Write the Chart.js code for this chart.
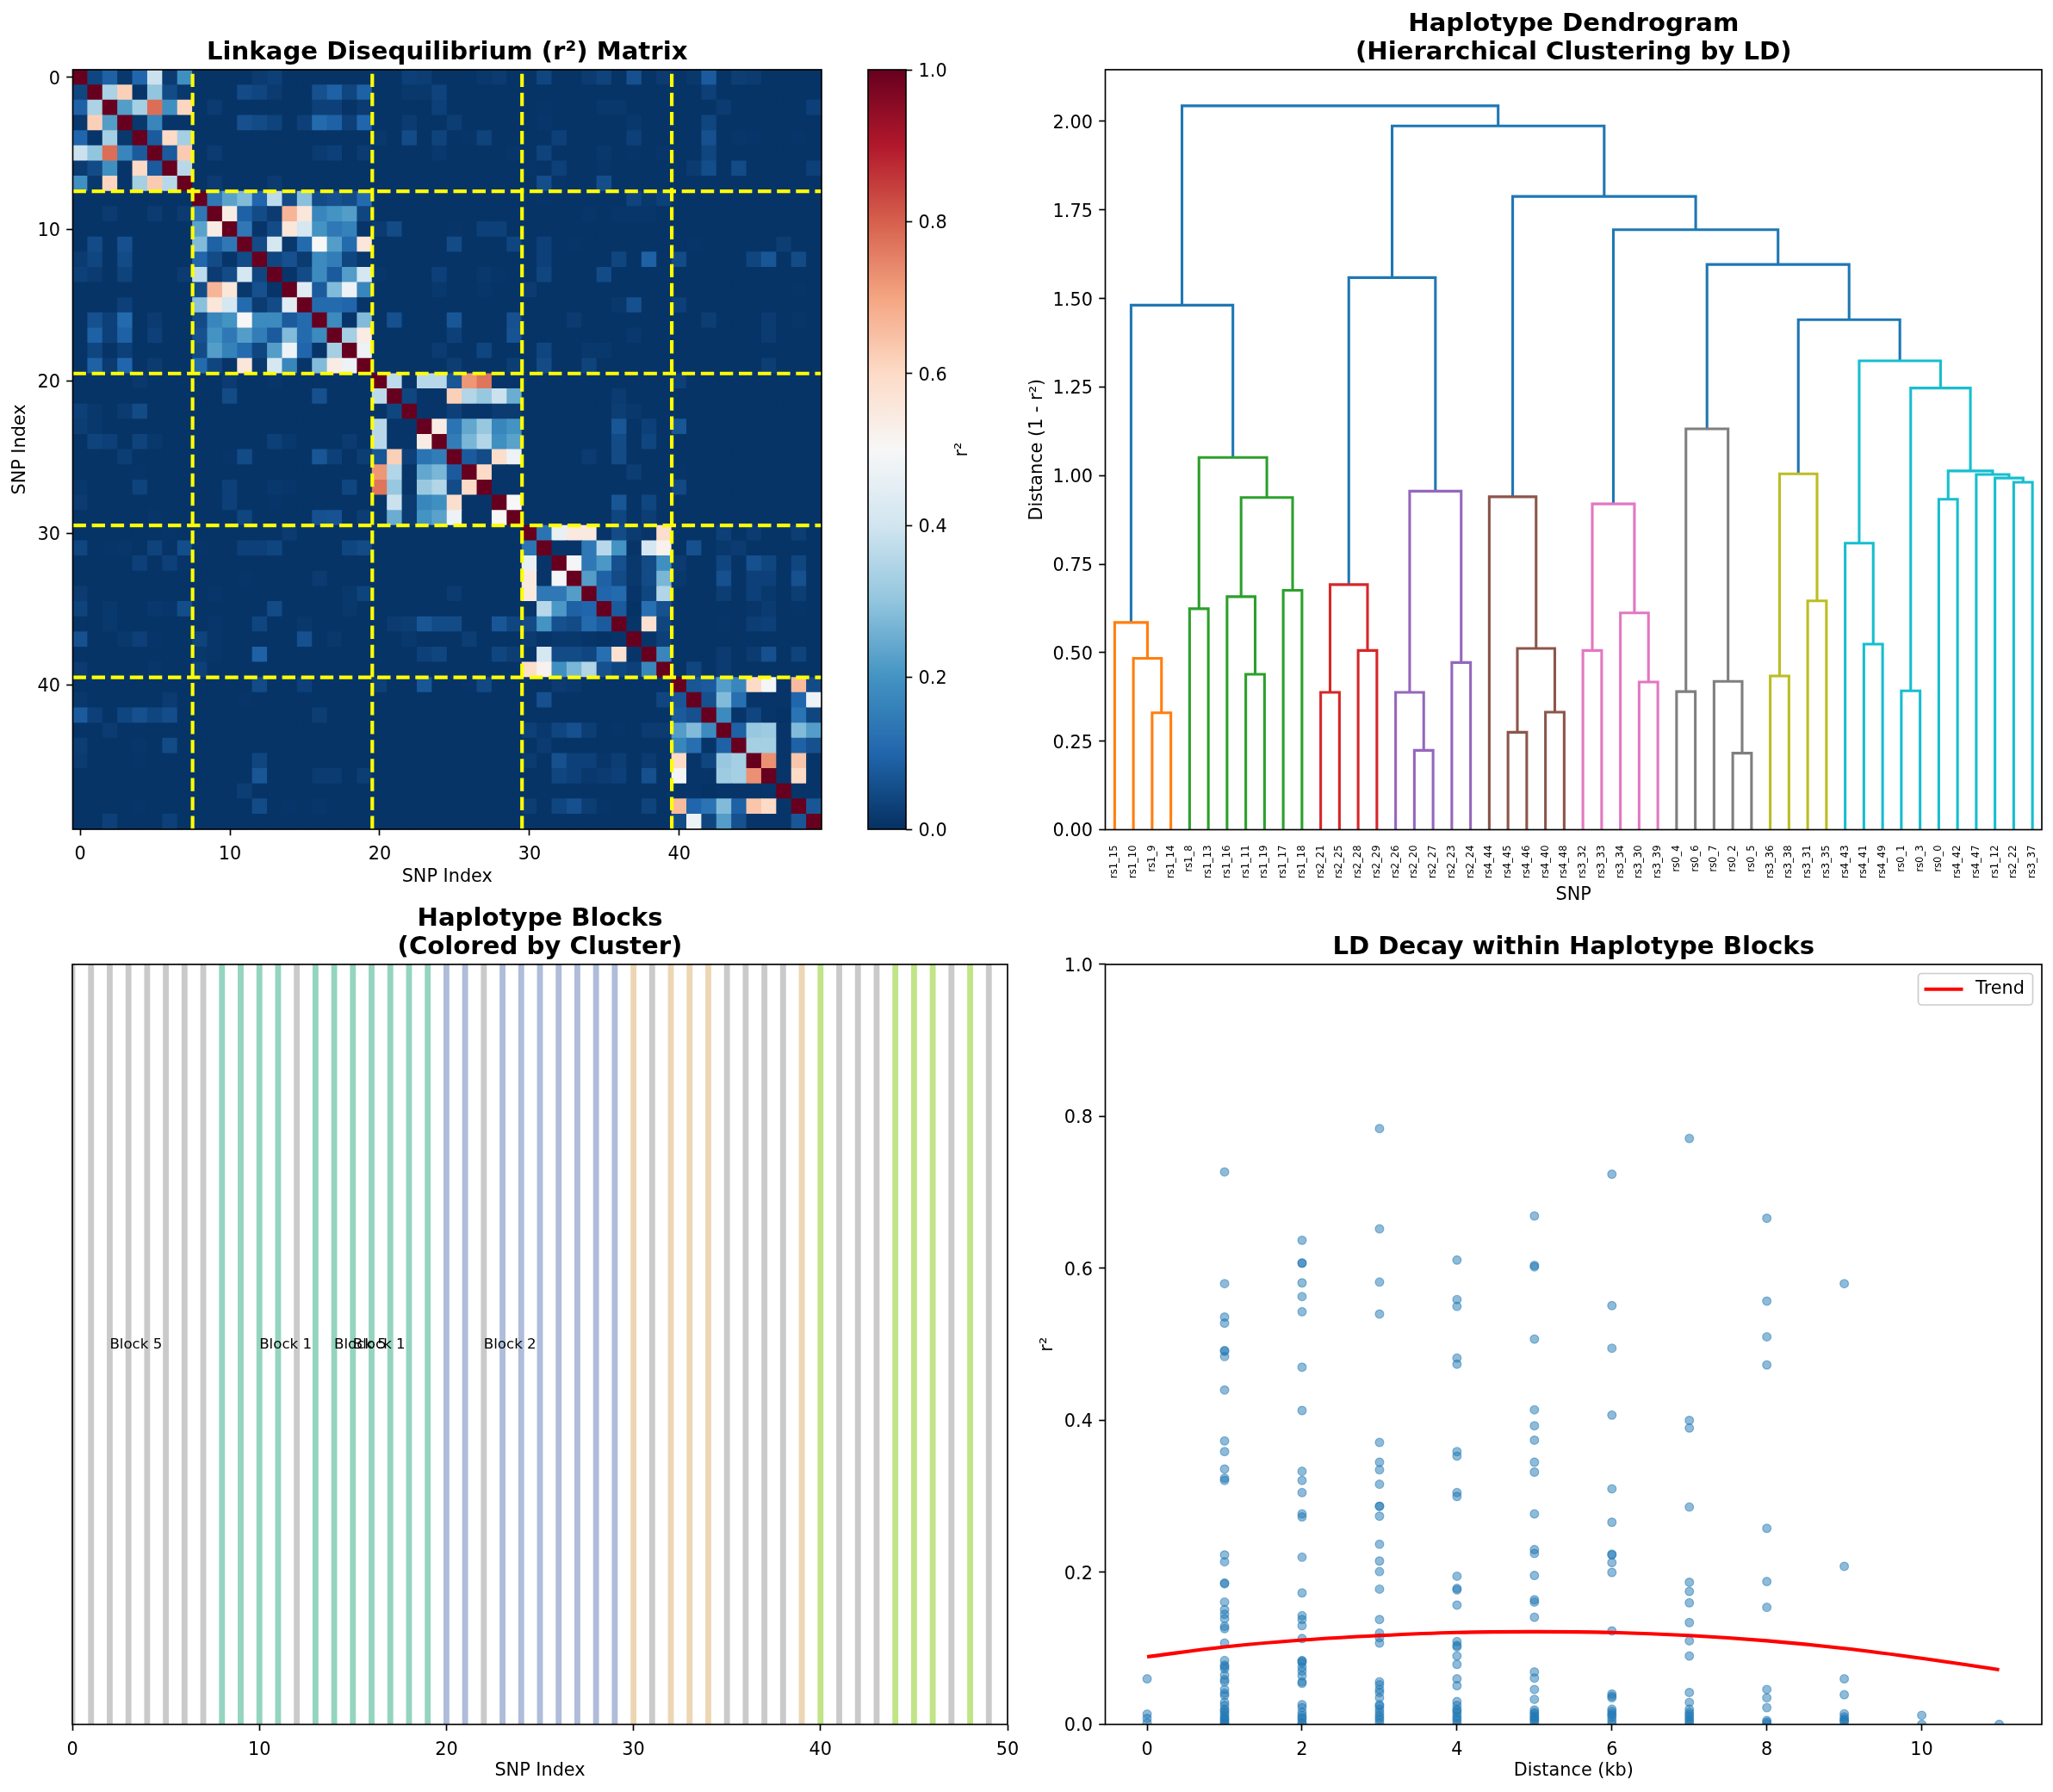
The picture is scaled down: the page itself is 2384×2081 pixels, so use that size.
<!DOCTYPE html>
<html>
<head>
<meta charset="utf-8">
<title>Haplotype block analysis</title>
<script src="https://cdn.jsdelivr.net/npm/chart.js@4/dist/chart.umd.min.js"></script>
<style>
  html, body { margin: 0; padding: 0; background: #fff; }
  #page { position: relative; width: 2384px; height: 2081px; overflow: hidden; background: #fff; }
  canvas { position: absolute; }
</style>
</head>
<body>
<div id="page"></div>
<script>
// --- LD matrix: upper triangles of the five blocks, first SNP of each block in blockStarts ---
const blockStarts = [0, 8, 20, 30, 40];
const blockBoundaries = [7.5, 19.5, 29.5, 39.5];
const ldBlock0 = [
  [.04, .09, .015, .10, .39, .02, .19],
  [.34, .62, .01, .30, .05, .015],
  [.22, .33, .78, .19, .61],
  [.015, .17, .01, .01],
  [.08, .60, .33],
  [.08, .63],
  [.36]
];
const ldBlock1 = [
  [.14, .23, .28, .10, .37, .05, .29, .05, .06, .05, .11],
  [.54, .09, .05, .02, .67, .56, .17, .20, .22, .04],
  [.14, .01, .05, .56, .41, .20, .14, .16, .01],
  [.05, .41, .015, .11, .50, .22, .11, .56],
  [.04, .06, .02, .18, .15, .04, .015],
  [.01, .05, .18, .08, .22, .41],
  [.44, .08, .28, .47, .17],
  [.11, .11, .10, .01],
  [.18, .01, .28],
  [.33, .54],
  [.47]
];
const ldBlock2 = [
  [.37, .01, .36, .36, .07, .72, .77, .01, .01],
  [.04, .01, .01, .62, .35, .31, .39, .25],
  [.01, .01, .03, .01, .01, .02, .02],
  [.54, .13, .24, .31, .17, .20],
  [.15, .27, .35, .19, .23],
  [.08, .05, .59, .47],
  [.60, .01, .01],
  [.01, .01],
  [.50]
];
const ldBlock3 = [
  [.13, .46, .55, .55, .01, .05, .02, .01, .59],
  [.01, .01, .14, .36, .20, .01, .41, .52],
  [.49, .14, .21, .06, .015, .05, .19],
  [.22, .09, .05, .015, .05, .27],
  [.10, .11, .01, .04, .35],
  [.08, .005, .12, .06],
  [.01, .58, .04],
  [.01, .03],
  [.17]
];
const ldBlock4 = [
  [.07, .08, .22, .17, .60, .49, .01, .66, .05],
  [.06, .28, .12, .01, .01, .01, .10, .47],
  [.18, .01, .04, .01, .005, .13, .04],
  [.09, .31, .32, .01, .28, .22],
  [.33, .33, .01, .09, .06],
  [.73, .01, .64, .01],
  [.01, .60, .01],
  [.01, .01],
  [.07]
];
// background r2 between blocks, and the pairs that stand out from it [snp a, snp b, r2]
const ldBackground = 0.008;
const ldCrossPairs = [
  [0,12,.02],[0,13,.03],[1,11,.05],[1,12,.04],[1,13,.02],[1,16,.06],[1,17,.09],[1,18,.04],[1,19,.09],
  [2,9,.02],[2,16,.03],[2,17,.03],[2,19,.02],[3,11,.06],[3,12,.05],[3,13,.035],[3,15,.03],[3,16,.11],
  [3,17,.09],[3,18,.03],[3,19,.10],[5,9,.02],[5,16,.02],[5,17,.03],[5,19,.02],[7,9,.02],[7,13,.02],
  [0,22,.03],[0,23,.025],[1,22,.015],[1,23,.015],[1,24,.035],[2,24,.03],[3,22,.02],[3,25,.025],
  [4,20,.015],[4,22,.05],[4,24,.035],[0,27,.015],[0,28,.02],[0,31,.04],[0,34,.02],[0,35,.035],[0,37,.06],
  [0,39,.02],[0,41,.015],[0,42,.08],[0,44,.025],[0,45,.02],[1,42,.03],[2,31,.01],[2,35,.015],[2,36,.015],
  [2,43,.02],[2,49,.03],[3,31,.012],[3,37,.015],[3,42,.04],[4,26,.01],[4,27,.035],[4,32,.03],[4,37,.03],
  [4,42,.06],[4,44,.012],[4,45,.01],[4,48,.01],[5,24,.015],[5,29,.012],[5,31,.035],[5,35,.015],[5,37,.01],
  [5,39,.012],[5,42,.04],[6,30,.01],[6,32,.03],[6,35,.012],[6,41,.02],[6,42,.055],[6,44,.05],[6,49,.03],
  [7,31,.055],[7,32,.01],[7,35,.055],[8,31,.01],[8,37,.035],[8,38,.015],[8,39,.03],[9,34,.012],[9,36,.012],
  [9,37,.012],[9,38,.012],[10,20,.02],[10,21,.05],[10,25,.01],[10,27,.03],[10,28,.03],[11,25,.05],[11,29,.04],
  [11,31,.03],[11,33,.01],[11,41,.01],[11,47,.025],[12,31,.03],[12,36,.04],[12,38,.09],[12,40,.05],[12,45,.04],
  [12,46,.07],[12,48,.05],[13,20,.012],[13,24,.03],[13,27,.015],[13,28,.01],[13,31,.04],[13,35,.05],[14,24,.015],
  [14,27,.012],[14,30,.02],[14,48,.01],[15,36,.015],[15,37,.06],[15,40,.03],[16,21,.06],[16,25,.07],[16,29,.06],
  [16,33,.02],[16,42,.025],[16,46,.02],[16,48,.012],[17,25,.03],[17,29,.065],[17,37,.015],[17,46,.02],[18,24,.02],
  [18,27,.04],[18,31,.04],[18,34,.015],[18,35,.015],[19,25,.025],[19,29,.025],[19,31,.05],[19,34,.035],[19,46,.025],
  [20,40,.03],[21,36,.02],[22,36,.025],[22,37,.015],[23,36,.07],[23,38,.03],[23,40,.07],[24,36,.05],[24,38,.04],
  [25,34,.02],[25,36,.05],[26,37,.025],[26,40,.01],[27,40,.045],[28,36,.07],[28,38,.04],[29,36,.04],[29,38,.025],
  [30,43,.03],[30,45,.02],[30,48,.025],[31,41,.06],[31,43,.015],[31,44,.02],[32,40,.02],[32,43,.04],[32,45,.06],
  [32,46,.04],[32,48,.04],[33,40,.015],[33,43,.06],[33,45,.03],[33,46,.03],[33,48,.06],[34,43,.025],[34,45,.03],
  [34,46,.015],[34,48,.025],[35,45,.012],[35,46,.02],[35,48,.01],[36,43,.01],[36,45,.025],[36,46,.03],[38,43,.02],
  [38,45,.02],[38,46,.06],[38,48,.035],[39,41,.04],[39,43,.02]
];
const matrixTicks = [0, 10, 20, 30, 40];
const colorbarTicks = [0, 0.2, 0.4, 0.6, 0.8, 1];
const rdbuStops = ['#053061', '#2166ac', '#4393c3', '#92c5de', '#d1e5f0', '#f7f7f7', '#fddbc7', '#f4a582', '#d6604d', '#b2182b', '#67001f'];

// --- Dendrogram: leaf order, then one merge per row, node ids above 49 are earlier merges ---
const leafNames = [
  'rs1_15', 'rs1_10', 'rs1_9', 'rs1_14', 'rs1_8', 'rs1_13', 'rs1_16', 'rs1_11', 'rs1_19', 'rs1_17',
  'rs1_18', 'rs2_21', 'rs2_25', 'rs2_28', 'rs2_29', 'rs2_26', 'rs2_20', 'rs2_27', 'rs2_23', 'rs2_24',
  'rs4_44', 'rs4_45', 'rs4_46', 'rs4_40', 'rs4_48', 'rs3_32', 'rs3_33', 'rs3_34', 'rs3_30', 'rs3_39',
  'rs0_4', 'rs0_6', 'rs0_7', 'rs0_2', 'rs0_5', 'rs3_36', 'rs3_38', 'rs3_31', 'rs3_35', 'rs4_43',
  'rs4_41', 'rs4_49', 'rs0_1', 'rs0_3', 'rs0_0', 'rs4_42', 'rs4_47', 'rs1_12', 'rs2_22', 'rs3_37'
];
const mergeLeft = [2, 1, 0, 4, 7, 6, 9, 55, 53, 11, 13, 59, 16, 15, 18, 63, 21, 23, 66, 20, 25, 28, 27, 70, 30, 33, 32, 74, 35, 37, 78, 40, 39, 42, 44, 48, 47, 46, 84, 83, 82, 52, 61, 80, 77, 73, 69, 92, 91];
const mergeRight = [3, 50, 51, 5, 8, 54, 10, 56, 57, 12, 14, 60, 17, 62, 19, 64, 22, 24, 67, 68, 26, 29, 71, 72, 31, 34, 75, 76, 36, 38, 79, 41, 81, 43, 45, 49, 85, 86, 87, 88, 89, 58, 65, 90, 93, 94, 95, 96, 97];
const mergeHeight = [.33, .484, .585, .624, .439, .658, .676, .938, 1.051, .388, .506, .692, .224, .388, .472, .956, .275, .332, .512, .94, .506, .417, .612, .92, .39, .216, .419, 1.132, .434, .646, 1.005, .524, .809, .392, .933, .981, .993, 1.003, 1.013, 1.247, 1.324, 1.481, 1.559, 1.44, 1.596, 1.694, 1.788, 1.987, 2.044];
const mergeColor = [
  '#ff7f0e', '#ff7f0e', '#ff7f0e', '#2ca02c', '#2ca02c', '#2ca02c', '#2ca02c', '#2ca02c', '#2ca02c',
  '#d62728', '#d62728', '#d62728', '#9467bd', '#9467bd', '#9467bd', '#9467bd',
  '#8c564b', '#8c564b', '#8c564b', '#8c564b', '#e377c2', '#e377c2', '#e377c2', '#e377c2',
  '#7f7f7f', '#7f7f7f', '#7f7f7f', '#7f7f7f', '#bcbd22', '#bcbd22', '#bcbd22',
  '#17becf', '#17becf', '#17becf', '#17becf', '#17becf', '#17becf', '#17becf', '#17becf', '#17becf', '#17becf',
  '#1f77b4', '#1f77b4', '#1f77b4', '#1f77b4', '#1f77b4', '#1f77b4', '#1f77b4', '#1f77b4'
];
const dendroTicks = [0, 0.25, 0.5, 0.75, 1, 1.25, 1.5, 1.75, 2];

// --- Haplotype blocks: cluster of each SNP, 0 is unassigned ---
const snpCluster = [
  0, 0, 0, 0, 0, 0, 0, 0, 1, 1, 1, 1, 0, 1, 1, 1, 1, 1, 1, 1,
  2, 2, 0, 2, 2, 2, 2, 2, 2, 2, 3, 0, 3, 3, 3, 0, 0, 0, 0, 3,
  4, 0, 0, 0, 4, 4, 4, 0, 4, 0
];
const clusterColors = ['rgba(179,179,179,.7)', 'rgba(102,194,165,.7)', 'rgba(141,160,203,.7)', 'rgba(229,196,148,.7)', 'rgba(166,216,84,.7)'];
const blockLabels = ['Block 5', 'Block 1', 'Block 5', 'Block 1', 'Block 2'];
const blockLabelX = [3.4, 11.4, 15.4, 16.4, 23.4];
const blockAxisTicks = [0, 10, 20, 30, 40, 50];

// --- LD decay: r2 of the pairs at each distance in kb, plus the fitted trend ---
const r2AtDistance = [
  [.06, .0135, .008, .002],
  [.727, .58, .536, .528, .492, .491, .484, .44, .373, .359, .336, .324, .321, .223, .214, .186, .185, .161, .151, .145, .139, .129, .126, .107, .084, .078, .076, .073, .065, .059, .056, .046, .041, .038, .029, .025, .02, .018, .015, .012, .009, .007, .005, .002, .001],
  [.637, .607, .607, .581, .563, .543, .47, .413, .333, .321, .305, .277, .273, .22, .173, .143, .138, .13, .113, .084, .083, .081, .075, .07, .064, .056, .054, .026, .022, .016, .012, .009, .007, .003, .001],
  [.784, .652, .582, .54, .371, .345, .335, .316, .287, .287, .274, .237, .215, .201, .178, .138, .12, .114, .107, .056, .052, .046, .042, .035, .026, .024, .02, .016, .012, .009, .006, .002],
  [.611, .559, .55, .482, .474, .359, .353, .305, .3, .195, .179, .177, .157, .109, .104, .102, .09, .079, .06, .051, .03, .025, .02, .018, .015, .011, .008, .005, .001],
  [.669, .604, .602, .507, .414, .393, .374, .345, .332, .277, .23, .225, .196, .164, .161, .141, .069, .061, .046, .033, .019, .016, .014, .011, .009, .007, .005, .002],
  [.724, .551, .495, .407, .31, .266, .224, .223, .213, .2, .123, .04, .037, .035, .02, .017, .014, .012, .009, .005, .001],
  [.771, .4, .39, .286, .187, .175, .16, .134, .11, .09, .042, .029, .02, .016, .013, .01, .007, .004, .001],
  [.666, .557, .51, .473, .258, .188, .154, .046, .035, .022, .005, .003, .001],
  [.58, .208, .06, .039, .014, .01, .007, .005, .003],
  [.012, 0],
  [0]
];
const trendDistance = [0, 1, 2, 3, 4, 5, 6, 7, 8, 9, 10, 11];
const trendR2 = [.089, .102, .111, .117, .121, .122, .121, .117, .11, .1, .087, .072];
const decayXTicks = [0, 2, 4, 6, 8, 10];
const decayYTicks = [0, 0.2, 0.4, 0.6, 0.8, 1];

// --- Shared styling ---
const FONT = '"DejaVu Sans", sans-serif';
const TICK_SIZE = 20.8;
const TITLE_SIZE = 29.17;
const TITLE_LINE = 1.13;
const TITLE_GAP = 3;
const SPINE = 1.67;
const CANVAS_PAD = 24;
const X_TICKS = { padding: 10 };
const Y_TICKS = { labelOffset: 2.5 };

Chart.defaults.font.family = FONT;
Chart.defaults.font.size = TICK_SIZE;
Chart.defaults.color = '#000';
Chart.defaults.animation = false;
Chart.defaults.events = [];
Chart.defaults.plugins.legend.display = false;
Chart.defaults.plugins.tooltip.enabled = false;

// Draws the four spines on top of the marks
const spinePlugin = {
  id: 'spines',
  afterDraw(chart) {
    const { ctx, chartArea: a } = chart;
    ctx.save();
    ctx.strokeStyle = '#000';
    ctx.lineWidth = SPINE;
    ctx.strokeRect(a.left, a.top, a.right - a.left, a.bottom - a.top);
    ctx.restore();
  }
};

function hexToRgb(hex) {
  return [1, 3, 5].map(i => parseInt(hex.slice(i, i + 2), 16));
}

// RdBu_r lookup for a value between 0 and 1
function ldColor(value) {
  const pos = Math.min(Math.max(value, 0), 1) * (rdbuStops.length - 1);
  const i = Math.min(Math.floor(pos), rdbuStops.length - 2);
  const a = hexToRgb(rdbuStops[i]);
  const b = hexToRgb(rdbuStops[i + 1]);
  const t = pos - i;
  return `rgb(${a.map((c, k) => Math.round(c + (b[k] - c) * t)).join(',')})`;
}

function buildMatrix() {
  const size = 50;
  const matrix = Array.from({ length: size }, () => new Array(size).fill(ldBackground));
  [ldBlock0, ldBlock1, ldBlock2, ldBlock3, ldBlock4].forEach((block, b) => {
    const start = blockStarts[b];
    block.forEach((row, i) => row.forEach((v, j) => {
      matrix[start + i][start + i + j + 1] = v;
      matrix[start + i + j + 1][start + i] = v;
    }));
  });
  ldCrossPairs.forEach(([a, b, v]) => { matrix[a][b] = v; matrix[b][a] = v; });
  for (let i = 0; i < size; i++) matrix[i][i] = 1;
  return matrix;
}

function fixedTicks(values) {
  return scale => { scale.ticks = values.map(value => ({ value })); };
}

// Axis with ticks only (no gridlines); box size is pinned so the plot area lands where it should
function axis(extra, boxSize) {
  const { ticks, grid, title, ...rest } = extra;
  return Object.assign({
    grid: { drawOnChartArea: false, tickLength: 7.3, tickWidth: SPINE, tickColor: '#000', ...grid },
    border: { display: false },
    ticks: { padding: 7.3, maxRotation: 0, autoSkip: false, font: { size: TICK_SIZE }, ...ticks },
    title: title ? { display: true, text: title, padding: 0, font: { size: TICK_SIZE, lineHeight: 1.2 } } : { display: false },
    afterFit(scale) {
      if (scale.isHorizontal()) scale.height = boxSize; else scale.width = boxSize;
      // labels may hang past the plot edge, that must not shrink the plot
      scale.paddingLeft = scale.paddingRight = scale.paddingTop = scale.paddingBottom = 0;
    }
  }, rest);
}

// Creates a canvas around the wanted plot rectangle, then nudges it so the plot area sits on that rectangle
function makeChart(rect, box, config) {
  const titleLines = box.titleLines || 0;
  const titleHeight = titleLines ? titleLines * TITLE_SIZE * TITLE_LINE + TITLE_GAP : 0;
  const canvas = document.createElement('canvas');
  canvas.width = Math.ceil((box.left || 0) + rect.w + (box.right || 0) + CANVAS_PAD * 2);
  canvas.height = Math.ceil(titleHeight + rect.h + (box.bottom || 0) + CANVAS_PAD * 2);
  document.getElementById('page').appendChild(canvas);

  config.options = Object.assign({
    responsive: false,
    maintainAspectRatio: false,
    layout: { autoPadding: false, padding: CANVAS_PAD }
  }, config.options);
  config.plugins = [spinePlugin].concat(config.plugins || []);
  const chart = new Chart(canvas.getContext('2d'), config);

  const area = chart.chartArea;
  const extraW = Math.round(rect.w - (area.right - area.left));
  const extraH = Math.round(rect.h - (area.bottom - area.top));
  if (extraW !== 0 || extraH !== 0) {
    chart.resize(canvas.width + extraW, canvas.height + extraH);
  }
  canvas.style.left = Math.round(rect.x - chart.chartArea.left) + 'px';
  canvas.style.top = Math.round(rect.y - chart.chartArea.top) + 'px';
  return chart;
}

function titleOptions(text) {
  return {
    display: true,
    text,
    fullSize: false,
    color: '#000',
    font: { size: TITLE_SIZE, weight: 'bold', lineHeight: TITLE_LINE },
    padding: { top: 0, bottom: TITLE_GAP }
  };
}

// --- LD heatmap ---
function drawMatrixPanel() {
  const matrix = buildMatrix();
  const cells = [];
  const colors = [];
  matrix.forEach((row, y) => row.forEach((v, x) => {
    cells.push({ x, y });
    colors.push(ldColor(v));
  }));

  const boundaryLines = [];
  blockBoundaries.forEach(pos => {
    boundaryLines.push({ data: [{ x: pos, y: 49.5 }, { x: pos, y: -0.5 }] });
    boundaryLines.push({ data: [{ x: -0.5, y: pos }, { x: 49.5, y: pos }] });
  });

  makeChart({ x: 84, y: 81, w: 869, h: 882 }, { left: 73.5, bottom: 68, titleLines: 1 }, {
    type: 'scatter',
    data: {
      datasets: boundaryLines.map(line => ({
        data: line.data,
        showLine: true,
        borderColor: '#ffff00',
        borderWidth: 4.17,
        borderDash: [15.4, 6.7],
        borderCapStyle: 'butt',
        pointRadius: 0,
        clip: 0
      })).concat([{
        data: cells,
        pointStyle: 'rect',
        pointRadius: 13,
        pointBorderWidth: 0,
        pointBackgroundColor: colors,
        clip: 0
      }])
    },
    options: {
      plugins: { title: titleOptions('Linkage Disequilibrium (r²) Matrix') },
      scales: {
        x: axis({ type: 'linear', min: -0.5, max: 49.5, title: 'SNP Index', ticks: X_TICKS, afterBuildTicks: fixedTicks(matrixTicks) }, 68),
        y: axis({ type: 'linear', min: -0.5, max: 49.5, reverse: true, title: 'SNP Index', ticks: Y_TICKS, afterBuildTicks: fixedTicks(matrixTicks) }, 73.5)
      }
    }
  });
}

// Colour scale beside the heatmap: gradient filled along its own axis
function drawColorbar() {
  const gradientPlugin = {
    id: 'gradientBar',
    beforeDatasetsDraw(chart) {
      const { ctx, chartArea: a, scales: { y } } = chart;
      const grad = ctx.createLinearGradient(0, y.getPixelForValue(0), 0, y.getPixelForValue(1));
      rdbuStops.forEach((c, i) => grad.addColorStop(i / (rdbuStops.length - 1), c));
      ctx.save();
      ctx.fillStyle = grad;
      ctx.fillRect(a.left, a.top, a.right - a.left, a.bottom - a.top);

      // label reads bottom to top
      ctx.translate(a.right + 65.5, (a.top + a.bottom) / 2);
      ctx.rotate(-Math.PI / 2);
      ctx.fillStyle = '#000';
      ctx.font = `${TICK_SIZE}px ${FONT}`;
      ctx.textAlign = 'center';
      ctx.textBaseline = 'middle';
      ctx.fillText('r²', 0, 0);
      ctx.restore();
    }
  };
  makeChart({ x: 1008, y: 81, w: 44, h: 882 }, { right: 80 }, {
    type: 'scatter',
    data: { datasets: [{ data: [], pointRadius: 0 }] },
    options: {
      scales: {
        x: { display: false, min: 0, max: 1 },
        y: axis({
          type: 'linear', position: 'right', min: 0, max: 1,
          afterBuildTicks: fixedTicks(colorbarTicks),
          ticks: { ...Y_TICKS, callback: v => Number(v).toFixed(1) }
        }, 80)
      }
    },
    plugins: [gradientPlugin]
  });
}

// --- Dendrogram ---
function drawDendrogram() {
  const nodeX = leafNames.map((_, i) => 5 + 10 * i);
  const nodeY = leafNames.map(() => 0);
  const links = mergeHeight.map((h, k) => {
    const a = mergeLeft[k];
    const b = mergeRight[k];
    const link = {
      data: [{ x: nodeX[a], y: nodeY[a] }, { x: nodeX[a], y: h }, { x: nodeX[b], y: h }, { x: nodeX[b], y: nodeY[b] }],
      showLine: true,
      borderColor: mergeColor[k],
      borderWidth: 3.1,
      borderJoinStyle: 'miter',
      borderCapStyle: 'butt',
      pointRadius: 0,
      tension: 0
    };
    nodeX.push((nodeX[a] + nodeX[b]) / 2);
    nodeY.push(h);
    return link;
  });

  makeChart({ x: 1283, y: 81, w: 1087, h: 883 }, { left: 91.5, bottom: 88.5, titleLines: 2 }, {
    type: 'scatter',
    data: { datasets: links },
    options: {
      plugins: { title: titleOptions(['Haplotype Dendrogram', '(Hierarchical Clustering by LD)']) },
      scales: {
        x: axis({
          type: 'linear', min: 0, max: 500, title: 'SNP',
          afterBuildTicks: fixedTicks(leafNames.map((_, i) => 5 + 10 * i)),
          grid: { tickLength: 0, tickWidth: 0 },
          ticks: {
            padding: 18, minRotation: 90, maxRotation: 90,
            font: { size: 11.5 },
            callback: (value, i) => leafNames[i]
          }
        }, 88.5),
        y: axis({
          type: 'linear', min: 0, max: 2.146, title: 'Distance (1 - r²)',
          afterBuildTicks: fixedTicks(dendroTicks),
          ticks: { ...Y_TICKS, callback: v => Number(v).toFixed(2) }
        }, 91.5)
      }
    }
  });
}

// --- Haplotype blocks ---
function drawBlocks() {
  const labelPlugin = {
    id: 'blockLabels',
    afterDatasetsDraw(chart) {
      const { ctx, scales: { x, y } } = chart;
      ctx.save();
      ctx.fillStyle = '#000';
      ctx.font = `16.67px ${FONT}`;
      ctx.textAlign = 'center';
      ctx.textBaseline = 'middle';
      blockLabels.forEach((text, i) => ctx.fillText(text, x.getPixelForValue(blockLabelX[i]), y.getPixelForValue(0.5)));
      ctx.restore();
    }
  };
  makeChart({ x: 84, y: 1120, w: 1086, h: 883 }, { bottom: 66.5, titleLines: 2 }, {
    type: 'bar',
    data: {
      datasets: [{
        data: snpCluster.map((_, i) => ({ x: i, y: 1 })),
        backgroundColor: snpCluster.map(c => clusterColors[c]),
        barThickness: 6.2,
        borderWidth: 0
      }]
    },
    options: {
      plugins: { title: titleOptions(['Haplotype Blocks', '(Colored by Cluster)']) },
      scales: {
        x: axis({
          type: 'linear', min: 0, max: 50, offset: false, title: 'SNP Index',
          ticks: X_TICKS,
          grid: { offset: false },
          afterBuildTicks: fixedTicks(blockAxisTicks)
        }, 66.5),
        y: { display: false, min: 0, max: 1 }
      }
    },
    plugins: [labelPlugin]
  });
}

// --- LD decay scatter ---
function drawDecay() {
  const legendPlugin = {
    id: 'trendLegend',
    afterDraw(chart) {
      const { ctx, chartArea: a } = chart;
      const right = a.right - 10.5, top = a.top + 10.5;
      const width = 133, height = 36.5;
      ctx.save();
      ctx.fillStyle = 'rgba(255,255,255,.8)';
      ctx.strokeStyle = '#cccccc';
      ctx.lineWidth = SPINE;
      ctx.beginPath();
      ctx.roundRect(right - width, top, width, height, 4);
      ctx.fill();
      ctx.stroke();
      ctx.strokeStyle = '#ff0000';
      ctx.lineWidth = 4.17;
      ctx.beginPath();
      ctx.moveTo(right - width + 7, top + height / 2);
      ctx.lineTo(right - width + 52, top + height / 2);
      ctx.stroke();
      ctx.fillStyle = '#000';
      ctx.font = `${TICK_SIZE}px ${FONT}`;
      ctx.textBaseline = 'middle';
      ctx.fillText('Trend', right - width + 66.5, top + height / 2);
      ctx.restore();
    }
  };

  const pairs = [];
  r2AtDistance.forEach((values, d) => values.forEach(r2 => pairs.push({ x: d, y: r2 })));

  makeChart({ x: 1283, y: 1120, w: 1087, h: 883 }, { left: 79.5, bottom: 66.5, titleLines: 1 }, {
    type: 'scatter',
    data: {
      datasets: [{
        data: trendDistance.map((d, i) => ({ x: d, y: trendR2[i] })),
        showLine: true,
        borderColor: '#ff0000',
        borderWidth: 4.17,
        borderCapStyle: 'butt',
        tension: 0.4,
        pointRadius: 0
      }, {
        data: pairs,
        pointRadius: 4.9,
        pointBorderWidth: 1.2,
        pointBackgroundColor: 'rgba(31,119,180,.5)',
        pointBorderColor: 'rgba(31,119,180,.5)',
        clip: 0
      }]
    },
    options: {
      plugins: { title: titleOptions('LD Decay within Haplotype Blocks') },
      scales: {
        x: axis({ type: 'linear', min: -0.54, max: 11.55, title: 'Distance (kb)', ticks: X_TICKS, afterBuildTicks: fixedTicks(decayXTicks) }, 66.5),
        y: axis({
          type: 'linear', min: 0, max: 1, title: 'r²',
          afterBuildTicks: fixedTicks(decayYTicks),
          ticks: { ...Y_TICKS, callback: v => Number(v).toFixed(1) }
        }, 79.5)
      }
    },
    plugins: [legendPlugin]
  });
}

drawMatrixPanel();
drawColorbar();
drawDendrogram();
drawBlocks();
drawDecay();
</script>
</body>
</html>
